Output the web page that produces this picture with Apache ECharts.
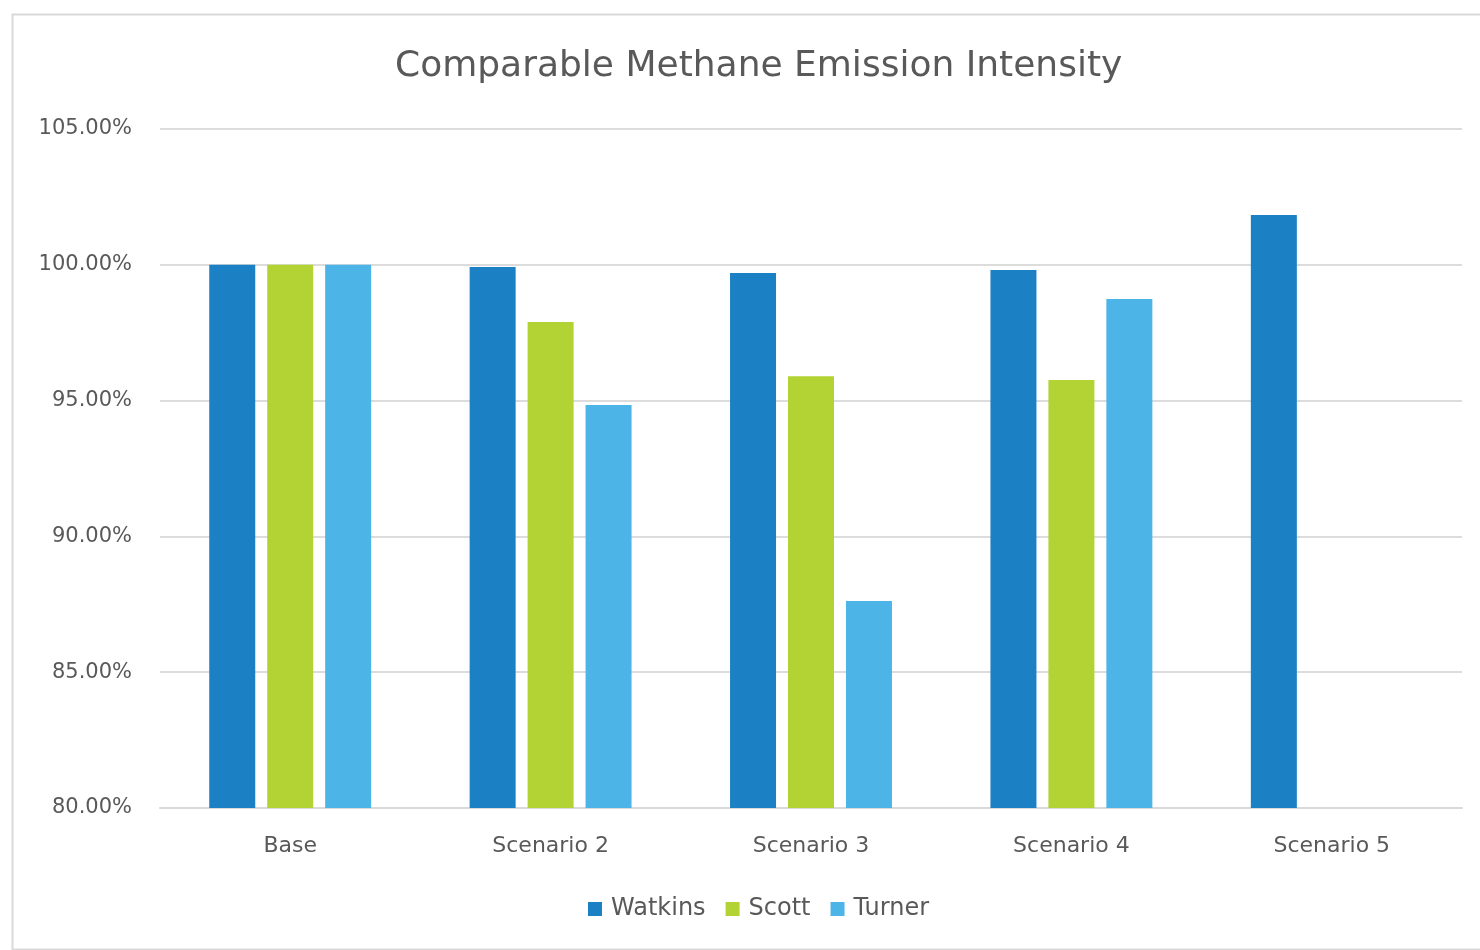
<!DOCTYPE html>
<html>
<head>
<meta charset="utf-8">
<script src="https://cdn.jsdelivr.net/npm/echarts@6/dist/echarts.min.js"></script>
<style>html,body{margin:0;padding:0;background:#fff;}#c{width:1480px;height:950px;}</style>
</head>
<body>
<div id="c"></div>
<script>
const categories = ['Base', 'Scenario 2', 'Scenario 3', 'Scenario 4', 'Scenario 5'];
const watkins = [100.0, 99.92, 99.70, 99.81, 101.83];
const scott = [100.0, 97.89, 95.90, 95.76, null];
const turner = [100.0, 94.84, 87.62, 98.74, null];
const seriesNames = ['Watkins', 'Scott', 'Turner'];
const colors = ['#1b80c4', '#b3d234', '#4db4e7'];
const font = 'DejaVu Sans';

const chart = echarts.init(document.getElementById('c'));
const mk = (name, data, color) => ({
  name, type: 'bar', data, barWidth: 46, barGap: '26%',
  itemStyle: { color }
});
chart.setOption({
  animation: false,
  backgroundColor: '#fff',
  graphic: [{
    type: 'rect', left: 10, top: 12,
    shape: { width: 1480, height: 935 },
    style: { fill: 'none', stroke: '#d9d9d9', lineWidth: 2 }, silent: true, z: -1
  }],
  title: {
    text: 'Comparable Methane Emission Intensity',
    left: 390, top: 44,
    textStyle: { fontFamily: font, fontSize: 36, fontWeight: 'normal', color: '#595959' }
  },
  legend: {
    bottom: 24, left: 583,
    itemWidth: 14, itemHeight: 14, itemGap: 20,
    icon: 'rect',
    data: seriesNames,
    textStyle: { fontFamily: font, fontSize: 24, color: '#595959', padding: [0, 0, 0, 4] }
  },
  grid: { left: 160, right: 18, top: 129, bottom: 142, containLabel: false },
  xAxis: {
    type: 'category', data: categories,
    axisLine: { lineStyle: { color: '#d9d9d9', width: 2 } },
    axisTick: { show: false },
    axisLabel: { fontFamily: font, fontSize: 22, color: '#595959', margin: 27 }
  },
  yAxis: {
    type: 'value', min: 80, max: 105, interval: 5,
    axisLine: { show: false }, axisTick: { show: false },
    splitLine: { lineStyle: { color: '#dcdcdc', width: 2 } },
    axisLabel: {
      fontFamily: font, fontSize: 21, color: '#595959', margin: 28,
      formatter: v => v.toFixed(2) + '%'
    }
  },
  series: [
    mk(seriesNames[0], watkins, colors[0]),
    mk(seriesNames[1], scott, colors[1]),
    mk(seriesNames[2], turner, colors[2])
  ]
});
</script>
</body>
</html>
